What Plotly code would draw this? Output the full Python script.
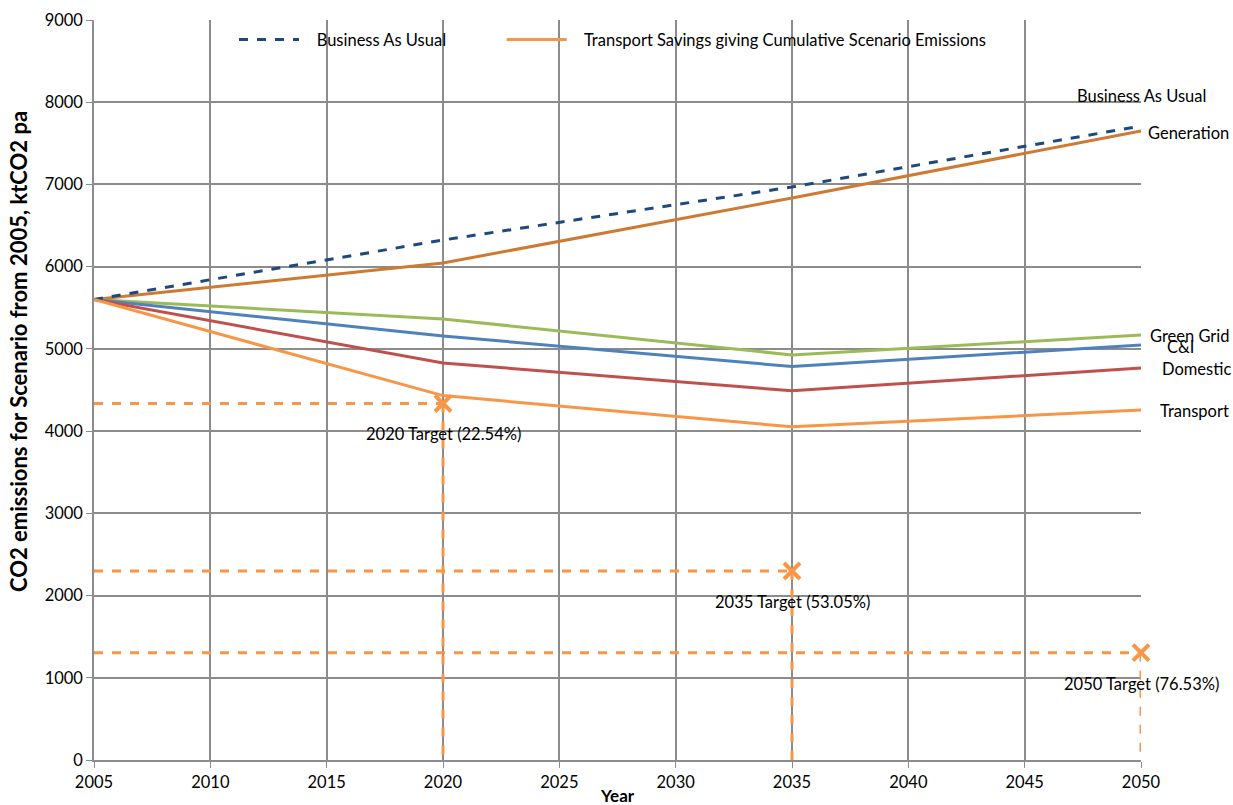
import plotly.graph_objects as go

years = [2005, 2020, 2035, 2050]
bau = [5600, 6324, 6969, 7711]
generation = [5600, 6045, 6835, 7650]
green_grid = [5600, 5364, 4926, 5169]
ci = [5600, 5157, 4785, 5047]
domestic = [5600, 4828, 4490, 4768]
transport = [5600, 4432, 4052, 4257]

target_years = [2020, 2035, 2050]
target_values = [4336, 2299, 1305]
target_labels = ["2020 Target (22.54%)", "2035 Target (53.05%)", "2050 Target (76.53%)"]

FONT = "Lato"
ORANGE = "#F79646"
NB = "&nbsp;"

fig = go.Figure()

# target guide lines
for ty, tv in zip(target_years, target_values):
    fig.add_trace(go.Scatter(x=[years[0], ty], y=[tv, tv], mode="lines",
                             line=dict(color=ORANGE, width=3, dash="dash"),
                             showlegend=False, hoverinfo="skip", cliponaxis=False))
    fig.add_trace(go.Scatter(x=[ty, ty], y=[tv, 0], mode="lines",
                             line=dict(color=ORANGE, width=3, dash="dash"),
                             showlegend=False, hoverinfo="skip", cliponaxis=False))

fig.add_trace(go.Scatter(x=years, y=generation, mode="lines",
                         line=dict(color="#CF7A32", width=3), showlegend=False))
fig.add_trace(go.Scatter(x=years, y=green_grid, mode="lines",
                         line=dict(color="#9BBB59", width=3), showlegend=False))
fig.add_trace(go.Scatter(x=years, y=ci, mode="lines",
                         line=dict(color="#4F81BD", width=3), showlegend=False))
fig.add_trace(go.Scatter(x=years, y=domestic, mode="lines",
                         line=dict(color="#C0504D", width=3), showlegend=False))
fig.add_trace(go.Scatter(x=years, y=bau, mode="lines",
                         name=NB * 3 + "Business As Usual" + NB * 12,
                         line=dict(color="#1F497D", width=3, dash="dash")))
fig.add_trace(go.Scatter(x=years, y=transport, mode="lines",
                         name=NB * 3 + "Transport Savings giving Cumulative Scenario Emissions",
                         line=dict(color=ORANGE, width=3)))

fig.add_trace(go.Scatter(x=target_years, y=target_values, mode="markers",
                         marker=dict(symbol="x-thin", size=16,
                                     line=dict(color=ORANGE, width=4)),
                         showlegend=False, cliponaxis=False))

# target labels
for ty, tv, lab in zip(target_years, target_values, target_labels):
    fig.add_annotation(x=ty, y=tv, text=lab, showarrow=False,
                       xanchor="center", yanchor="middle", yshift=-31,
                       font=dict(family=FONT, size=16.5, color="#000"))

# right-side series labels
right_labels = [
    ("Business As Usual", bau[-1], "right", 67, 30),
    ("Generation", generation[-1], "left", 5, -2),
    ("Green Grid", green_grid[-1], "left", 7, -1),
    ("C&I", ci[-1], "left", 24, -2),
    ("Domestic", domestic[-1], "left", 19, -1),
    ("Transport", transport[-1], "left", 17, -1),
]
for text, yv, anchor, xs, ys in right_labels:
    fig.add_annotation(x=years[-1], y=yv, text=text, showarrow=False,
                       xanchor=anchor, yanchor="middle", xshift=xs, yshift=ys,
                       font=dict(family=FONT, size=16.5, color="#000"))

# axis titles as annotations (positioned like the reference)
fig.add_annotation(xref="paper", yref="paper", x=-0.0726, y=0.5527,
                   text="<b>CO2 emissions for Scenario from 2005, ktCO2 pa</b>",
                   textangle=-90, showarrow=False, xanchor="center", yanchor="middle",
                   font=dict(family=FONT, size=22, color="#000"))
fig.add_annotation(xref="paper", yref="paper", x=0.5, y=-0.048,
                   text="<b>Year</b>", showarrow=False, xanchor="center", yanchor="middle",
                   font=dict(family=FONT, size=17, color="#000"))

fig.update_layout(
    width=1233, height=805,
    margin=dict(l=94, r=92, t=20, b=45, autoexpand=False),
    plot_bgcolor="white", paper_bgcolor="white",
    font=dict(family=FONT, size=16, color="#000"),
    showlegend=True,
    legend=dict(orientation="h", x=0.1337, y=0.997, xanchor="left", yanchor="top",
                bgcolor="rgba(0,0,0,0)", font=dict(family=FONT, size=16.5),
                itemwidth=60),
    xaxis=dict(range=[2005, 2050], tickvals=list(range(2005, 2051, 5)),
               showgrid=True, gridcolor="#8C8C8C", gridwidth=1.5,
               showline=True, linecolor="#8C8C8C", linewidth=1.5,
               ticks="outside", ticklen=6, tickcolor="#8C8C8C",
               tickfont=dict(family=FONT, size=16.5),
               zeroline=False, automargin=False),
    yaxis=dict(range=[0, 9000], dtick=1000,
               showgrid=True, gridcolor="#8C8C8C", gridwidth=1.5,
               showline=True, linecolor="#8C8C8C", linewidth=1.5,
               ticks="outside", ticklen=6, tickcolor="#8C8C8C",
               tickfont=dict(family=FONT, size=16.5),
               zeroline=False, automargin=False),
)

fig.write_html("out.html", config={"displayModeBar": False},
               post_script="document.body.style.margin='0';document.body.style.overflow='hidden';")
